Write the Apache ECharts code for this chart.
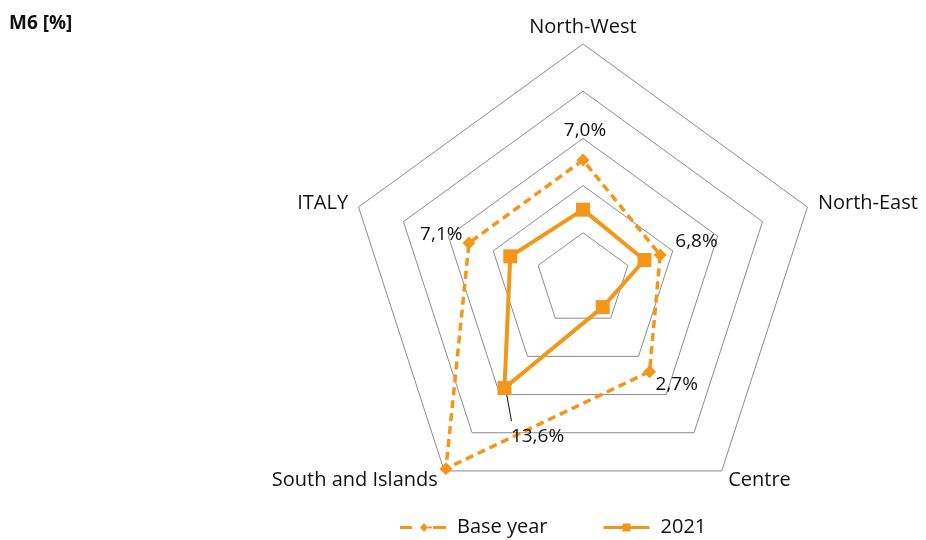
<!DOCTYPE html>
<html>
<head>
<meta charset="utf-8">
<script src="https://cdn.jsdelivr.net/npm/echarts@6/dist/echarts.min.js"></script>
<style>
body { margin: 0; background: #fff; }
#chart { width: 926px; height: 540px; }
</style>
</head>
<body>
<div id="chart"></div>
<script>
// indicators in echarts order (counter-clockwise from the top)
const areas = ["North-West", "ITALY", "South and Islands", "Centre", "North-East"];
const baseYear = [12.7, 12.7, 24.7, 12.0, 8.6];
const y2021 = [7.45, 8.1, 14.15, 3.55, 6.85];
const labels2021 = ["7,0%", "7,1%", "13,6%", "2,7%", "6,8%"];
const axisMax = 25;

const orange = "#F39619";
const font = "Open Sans";

// where each label sits relative to its 2021 point [dx, dy]
const labelShift = [[2, -79], [-69, -22], [33, 49], [74, 77], [52, -18]];

const rich = {};
labelShift.forEach(function (s, i) {
  const dx = s[0] * 2, dy = s[1] * 2;
  rich["l" + i] = {
    fontFamily: font,
    fontSize: 19,
    color: "#111",
    padding: [Math.max(dy, 0), Math.max(-dx, 0), Math.max(-dy, 0), Math.max(dx, 0)]
  };
});

const chart = echarts.init(document.getElementById("chart"));

chart.setOption({
  animation: false,
  title: {
    text: "M6 [%]",
    left: 4,
    top: 9,
    textStyle: { fontFamily: font, fontSize: 19, fontWeight: "bold", color: "#111" }
  },
  legend: {
    bottom: -2,
    left: 395,
    itemWidth: 46,
    itemHeight: 12,
    itemGap: 56,
    textStyle: { fontFamily: font, fontSize: 20, color: "#111", padding: [0, 0, 0, 6] },
    data: [
      {
        name: "Base year",
        icon: "path://M0,5h12v3H0z M20,6.5L24,2L28,6.5L24,11z M28,5.5h4v2h-4z M33,5h13v3H33z M0,0h0.01v0.01H0z M46,12h-0.01v-0.01H46z",
        itemStyle: { color: orange }
      },
      {
        name: "2021",
        icon: "path://M0,5h46v3H0z M19,2.5h8v8h-8z M0,0h0.01v0.01H0z M46,12h-0.01v-0.01H46z",
        itemStyle: { color: orange }
      }
    ]
  },
  radar: {
    center: [583, 280],
    radius: 236,
    shape: "polygon",
    splitNumber: 5,
    nameGap: 11,
    axisName: { fontFamily: font, fontSize: 20, lineHeight: 12, color: "#111" },
    axisLine: { show: false },
    axisTick: { show: false },
    axisLabel: { show: false },
    splitArea: { show: false },
    splitLine: { lineStyle: { color: "#8c8c8c", width: 1 } },
    indicator: areas.map(function (a) { return { name: a, min: 0, max: axisMax }; })
  },
  series: [
    {
      type: "radar",
      z: 2,
      data: [
        {
          name: "Base year",
          value: baseYear,
          symbol: "diamond",
          symbolSize: 13,
          itemStyle: { color: orange },
          lineStyle: { color: orange, width: 3.5, type: [8, 5] }
        },
        {
          name: "2021",
          value: y2021,
          symbol: "rect",
          symbolSize: 14,
          itemStyle: { color: orange },
          lineStyle: { color: orange, width: 4 },
          label: {
            show: true,
            position: "inside",
            formatter: function (p) {
              return "{l" + p.dimensionIndex + "|" + labels2021[p.dimensionIndex] + "}";
            },
            rich: rich
          }
        }
      ]
    }
  ]
});

// leader line from the 2021 South and Islands point to its label
const radarCs = chart.getModel().getComponent("radar").coordinateSystem;
const sIdx = 2;
const p0 = radarCs.dataToPoint(y2021[sIdx], sIdx);
chart.setOption({
  graphic: [{
    type: "line",
    shape: { x1: p0[0] + 1, y1: p0[1], x2: p0[0] + 7, y2: p0[1] + 33 },
    style: { stroke: "#111", lineWidth: 1 },
    z: 1
  }]
});
</script>
</body>
</html>
